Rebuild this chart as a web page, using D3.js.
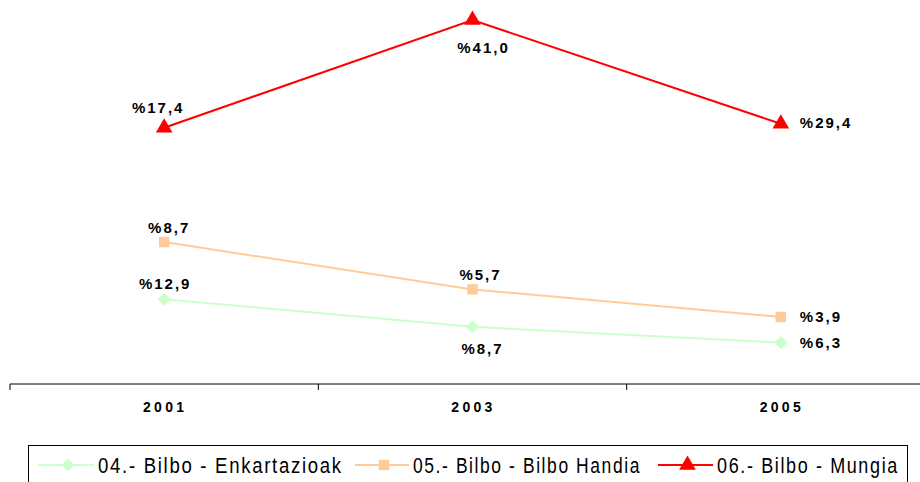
<!DOCTYPE html>
<html><head><meta charset="utf-8">
<script src="https://cdn.jsdelivr.net/npm/d3@7"></script>
<style>body{margin:0;background:#fff}svg{display:block}</style>
</head><body>
<svg id="c" width="920" height="482"></svg>
<script>
const years = ["2001", "2003", "2005"];
const seriesNames = ["04.- Bilbo - Enkartazioak", "05.- Bilbo - Bilbo Handia", "06.- Bilbo - Mungia"];
const enkartazioak = [12.9, 8.7, 6.3];
const bilboHandia = [8.7, 5.7, 3.9];
const mungia = [17.4, 41.0, 29.4];
const labelText = v => "%" + v.toFixed(1).replace(".", ",");

const svg = d3.select("#c");
const x = d3.scaleBand().domain(years).range([10, 935]).padding(0);
const y = d3.scaleLinear().domain([0, 55.4]).range([384, 20]);

const diamond = d3.symbol().type(d3.symbolSquare).size(85);
const series = [
  {name: seriesNames[0], values: enkartazioak, color: "#ccffcc", sym: diamond, rot: 45,
   off: [[1, -10], [10, 27], [19, 5]], anchor: ["middle", "middle", "start"]},
  {name: seriesNames[1], values: bilboHandia, color: "#ffcc99", sym: d3.symbol().type(d3.symbolSquare).size(110), rot: 0,
   off: [[5, -9], [8, -9], [19, 5]], anchor: ["middle", "middle", "start"]},
  {name: seriesNames[2], values: mungia, color: "#ff0000", sym: d3.symbol().type(d3.symbolTriangle).size(120), rot: 0,
   off: [[-6, -15], [11, 33], [19, 4]], anchor: ["middle", "middle", "start"]}
];
// stacked cumulative values
let cum = years.map(() => 0);
series.forEach(s => {
  s.stack = s.values.map((v, i) => (cum[i] += v));
});

// axis
const axisG = svg.append("g").attr("transform", "translate(0,384)");
axisG.call(d3.axisBottom(x).tickSize(0).tickFormat(""));
axisG.select(".domain").attr("stroke", "#000").attr("d", "M10,0H935");
const tickPos = years.map(d => x(d));
axisG.selectAll("line.t").data(tickPos).enter().append("line").attr("class", "t")
  .attr("x1", d => d).attr("x2", d => d).attr("y1", 0).attr("y2", 6).attr("stroke", "#000");
axisG.selectAll("text.yr").data(years).enter().append("text").attr("class", "yr")
  .attr("x", d => x(d) + x.bandwidth() / 2 + 1).attr("y", 28)
  .attr("text-anchor", "middle").attr("fill", "#000")
  .style("font-family", "Liberation Sans, Arial, sans-serif").style("font-weight", "bold")
  .style("font-size", "14px").style("letter-spacing", "3.3px")
  .text(d => d);

const cx = d => x(d) + x.bandwidth() / 2;
const line = d3.line().x((d, i) => cx(years[i])).y(d => y(d));

series.forEach(s => {
  const g = svg.append("g");
  g.append("path").attr("d", line(s.stack)).attr("fill", "none").attr("stroke", s.color).attr("stroke-width", 2);
  g.selectAll("path.m").data(s.stack).enter().append("path").attr("class", "m")
    .attr("d", s.sym())
    .attr("transform", (d, i) => `translate(${cx(years[i])},${y(d)}) rotate(${s.rot})`)
    .attr("fill", s.color);
  g.selectAll("text").data(s.values).enter().append("text")
    .attr("x", (d, i) => cx(years[i]) + s.off[i][0])
    .attr("y", (d, i) => y(s.stack[i]) + s.off[i][1])
    .attr("text-anchor", (d, i) => s.anchor[i]).attr("fill", "#000")
    .style("font-family", "Liberation Sans, Arial, sans-serif").style("font-weight", "bold")
    .style("font-size", "15px").style("letter-spacing", "2px")
    .text(d => labelText(d));
});

// legend
const lg = svg.append("g");
lg.append("rect").attr("x", 28.5).attr("y", 445.5).attr("width", 879).attr("height", 45)
  .attr("fill", "none").attr("stroke", "#000");
const legX = [38, 355, 658];
const legW = [56, 54, 55];
const legTextW = [245, 228, 182];
series.forEach((s, i) => {
  const g = lg.append("g").attr("transform", `translate(${legX[i]},465)`);
  g.append("line").attr("x1", 0).attr("x2", legW[i]).attr("stroke", s.color).attr("stroke-width", 2);
  g.append("path").attr("d", s.sym()).attr("transform", `translate(${legW[i] / 2 + 2},0) rotate(${s.rot})`).attr("fill", s.color);
  const t = g.append("text").attr("fill", "#000")
    .style("font-family", "Liberation Sans, Arial, sans-serif").style("font-size", "22px")
    .style("letter-spacing", "2px")
    .text(s.name);
  // horizontally condensed, then fitted to the reference width
  const w = t.node().getComputedTextLength();
  const sx = legTextW[i] / w;
  t.attr("transform", `translate(${legW[i] + 4},8) scale(${sx},1)`);
});
</script>
</body></html>
